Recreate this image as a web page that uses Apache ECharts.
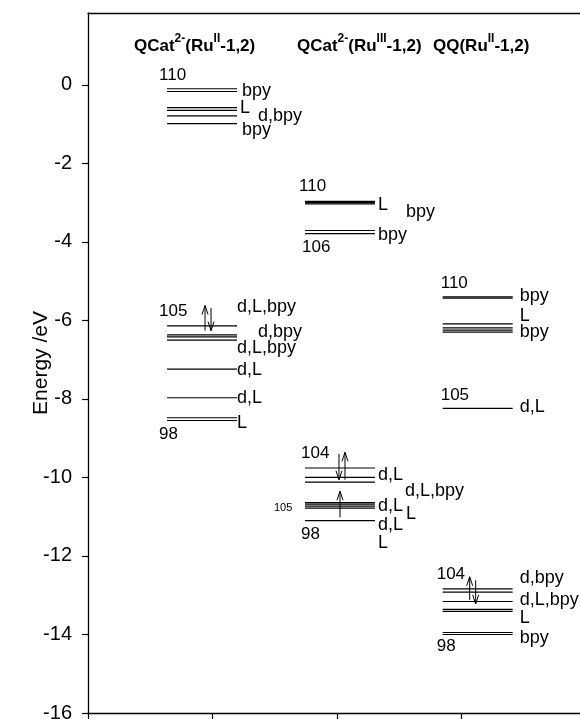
<!DOCTYPE html>
<html>
<head>
<meta charset="utf-8">
<script src="https://cdn.jsdelivr.net/npm/echarts@6/dist/echarts.min.js"></script>
<style>html,body{margin:0;padding:0;background:#fff}#c{width:580px;height:719px}</style>
</head>
<body>
<div id="c"></div>
<script>
// ---------- DATA ----------
// Orbital energies (eV) for each complex
const levelsRuII  = [-0.10, -0.17, -0.58, -0.65, -0.79, -0.99, -6.14, -6.37, -6.42, -6.50, -7.24, -7.97, -8.48, -8.55];
const levelsRuIII = [-2.97, -3.00, -3.03, -3.71, -3.79, -9.76, -10.00, -10.12, -10.64, -10.68, -10.73, -10.78, -11.10];
const levelsQQ    = [-5.40, -5.43, -6.09, -6.19, -6.25, -6.30, -8.24, -12.84, -12.92, -13.16, -13.36, -13.41, -13.95, -14.00];

// Orbital character labels and the energy they sit at
const charTextRuII   = ['bpy', 'L', 'd,bpy', 'bpy', 'd,L,bpy', 'd,bpy', 'd,L,bpy', 'd,L', 'd,L', 'L'];
const charEnergyRuII = [-0.17, -0.59, -0.79, -1.16, -5.65, -6.29, -6.71, -7.26, -7.98, -8.62];
const charTextRuIII   = ['L', 'bpy', 'bpy', 'd,L', 'd,L,bpy', 'd,L', 'L', 'd,L', 'L'];
const charEnergyRuIII = [-3.06, -3.23, -3.82, -9.94, -10.34, -10.73, -10.93, -11.21, -11.68];
const charTextQQ   = ['bpy', 'L', 'bpy', 'd,L', 'd,bpy', 'd,L,bpy', 'L', 'bpy'];
const charEnergyQQ = [-5.38, -5.90, -6.29, -8.20, -12.57, -13.12, -13.59, -14.10];

// Orbital numbers
const numTextRuII   = ['110', '105', '98'];
const numEnergyRuII = [0.25, -5.78, -8.89];
const numTextRuIII   = ['110', '106', '104', '105', '98'];
const numEnergyRuIII = [-2.59, -4.14, -9.38, -10.78, -11.46];
const numTextQQ   = ['110', '105', '104', '98'];
const numEnergyQQ = [-5.05, -7.90, -12.48, -14.31];

// Electron arrows (from energy -> to energy)
const arrowFromRuII  = [-6.26, -5.68];
const arrowToRuII    = [-5.62, -6.26];
const arrowFromRuIII = [-9.40, -10.06, -11.02];
const arrowToRuIII   = [-10.06, -9.36, -10.35];
const arrowFromQQ    = [-13.12, -12.62];
const arrowToQQ      = [-12.53, -13.22];

// Axis ticks
const yTicks = [-16, -14, -12, -10, -8, -6, -4, -2, 0];
const yAxisName = 'Energy /eV';

// ---------- LAYOUT / STYLE ----------
const COL_X = [0.916, 2.024, 3.13];   // column centres on the x scale
const HALF_W = 0.281;
const FONT = '"Liberation Sans", Arial, sans-serif';
const charDx = [[5, 3, 21, 5, 0, 21, 0, 0, 0, 0],
                [3, 31, 3, 3, 30, 3, 31, 3, 3],
                [7, 7, 7, 7, 7, 7, 7, 7]];
const numDx = [[-8, -8, -8], [-6, -3, -4, -31, -4], [-2, -2, -6, -6]];
const numSize = [[17, 17, 17], [17, 17, 17, 11, 17], [17, 17, 17, 17]];
const arrowDx = [[3, 9], [-1, 5, 0], [-8, -2]];

const levelData = [];
[levelsRuII, levelsRuIII, levelsQQ].forEach((arr, c) => arr.forEach(e => levelData.push([c, e])));

const charItems = [];
[[charTextRuII, charEnergyRuII], [charTextRuIII, charEnergyRuIII], [charTextQQ, charEnergyQQ]].forEach((p, c) => {
  p[0].forEach((t, i) => charItems.push({c, e: p[1][i], t, dx: charDx[c][i]}));
});
const numItems = [];
[[numTextRuII, numEnergyRuII], [numTextRuIII, numEnergyRuIII], [numTextQQ, numEnergyQQ]].forEach((p, c) => {
  p[0].forEach((t, i) => numItems.push({c, e: p[1][i], t, dx: numDx[c][i], fs: numSize[c][i]}));
});
const arrowItems = [];
[[arrowFromRuII, arrowToRuII], [arrowFromRuIII, arrowToRuIII], [arrowFromQQ, arrowToQQ]].forEach((p, c) => {
  p[0].forEach((f, i) => arrowItems.push({c, f, t: p[1][i], dx: arrowDx[c][i]}));
});

const chart = echarts.init(document.getElementById('c'), null, {renderer: 'canvas'});

function renderLevel(params, api) {
  const c = api.value(0), e = api.value(1);
  const p0 = api.coord([COL_X[c] - HALF_W, e]);
  const p1 = api.coord([COL_X[c] + HALF_W, e]);
  return {type: 'line', shape: {x1: p0[0], y1: p0[1], x2: p1[0], y2: p1[1]},
          style: {stroke: '#000', lineWidth: 1.2}};
}
function renderChar(params, api) {
  const it = charItems[params.dataIndex];
  const p = api.coord([COL_X[it.c] + HALF_W, it.e]);
  return {type: 'text', x: p[0] + it.dx, y: p[1],
          style: {text: it.t, fill: '#000', font: '18px ' + FONT, align: 'left', verticalAlign: 'middle'}};
}
function renderNum(params, api) {
  const it = numItems[params.dataIndex];
  const p = api.coord([COL_X[it.c] - HALF_W, it.e]);
  return {type: 'text', x: p[0] + it.dx, y: p[1],
          style: {text: it.t, fill: '#000', font: it.fs + 'px ' + FONT, align: 'left', verticalAlign: 'middle'}};
}
function renderArrow(params, api) {
  const it = arrowItems[params.dataIndex];
  const a = api.coord([COL_X[it.c], it.f]);
  const b = api.coord([COL_X[it.c], it.t]);
  const x = a[0] + it.dx;
  const dir = b[1] < a[1] ? 1 : -1; // 1: pointing up
  const hl = 9, hw = 3;
  return {type: 'group', children: [
    {type: 'line', shape: {x1: x, y1: a[1], x2: x, y2: b[1]}, style: {stroke: '#000', lineWidth: 1}},
    {type: 'polyline', shape: {points: [[x - hw, b[1] + dir * hl], [x, b[1]], [x + hw, b[1] + dir * hl]]},
     style: {stroke: '#000', lineWidth: 1, fill: null}}
  ]};
}

const titleRich = {
  n: {fontSize: 17, fontWeight: 'bold', fontFamily: FONT, lineHeight: 22, verticalAlign: 'bottom', fill: '#000'},
  s: {fontSize: 12, fontWeight: 'bold', fontFamily: FONT, lineHeight: 13, verticalAlign: 'top', fill: '#000'}
};

chart.setOption({
  animation: false,
  backgroundColor: '#fff',
  grid: {left: 88, top: 13, right: -6, bottom: 6, containLabel: false, outerBoundsMode: 'none'},
  xAxis: [
    {type: 'value', min: 0, max: 4, interval: 1, position: 'bottom',
     axisLine: {show: true, onZero: false, lineStyle: {color: '#000', width: 1.3}},
     axisTick: {show: true, length: 6, lineStyle: {color: '#000', width: 1.2}},
     axisLabel: {show: false}, splitLine: {show: false}},
    {type: 'value', min: 0, max: 4, position: 'top',
     axisLine: {show: true, onZero: false, lineStyle: {color: '#000', width: 1.3}},
     axisTick: {show: false}, axisLabel: {show: false}, splitLine: {show: false}}
  ],
  yAxis: {
    type: 'value', min: -16, max: 1.83, interval: 2,
    name: yAxisName, nameLocation: 'middle', nameGap: 36, nameRotate: 90, nameMoveOverlap: false,
    nameTextStyle: {fontSize: 21, fontFamily: FONT, color: '#000'},
    axisLine: {show: true, onZero: false, lineStyle: {color: '#000', width: 1.3}},
    axisTick: {show: true, length: 6, customValues: yTicks, lineStyle: {color: '#000', width: 1.2}},
    axisLabel: {show: true, customValues: yTicks, margin: 16, fontSize: 20, fontFamily: FONT, color: '#000'},
    splitLine: {show: false}
  },
  graphic: [
    {type: 'text', left: 134, top: 33, style: {text: '{n|QCat}{s|2-}{n|(Ru}{s|II}{n|-1,2)}', rich: titleRich}},
    {type: 'text', left: 297, top: 33, style: {text: '{n|QCat}{s|2-}{n|(Ru}{s|III}{n|-1,2)}', rich: titleRich}},
    {type: 'text', left: 433, top: 33, style: {text: '{n|QQ(Ru}{s|II}{n|-1,2)}', rich: titleRich}}
  ],
  series: [
    {type: 'custom', silent: true, renderItem: renderLevel, data: levelData, encode: {x: 0, y: 1}},
    {type: 'custom', silent: true, renderItem: renderChar, data: charItems.map(d => [d.c, d.e]), encode: {x: 0, y: 1}},
    {type: 'custom', silent: true, renderItem: renderNum, data: numItems.map(d => [d.c, d.e]), encode: {x: 0, y: 1}},
    {type: 'custom', silent: true, renderItem: renderArrow, data: arrowItems.map(d => [d.c, d.f]), encode: {x: 0, y: 1}}
  ]
});
</script>
</body>
</html>
